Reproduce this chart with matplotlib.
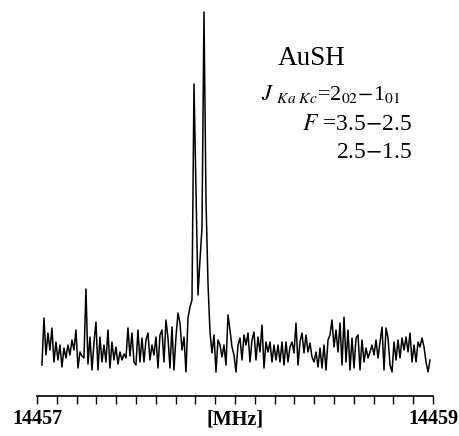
import matplotlib
matplotlib.use("Agg")
import matplotlib.pyplot as plt
import numpy as np

plt.rcParams["font.family"] = ["Liberation Serif", "DejaVu Serif"]
plt.rcParams["mathtext.fontset"] = "stix"

# spectrum, 195 samples between 14457.025 and 14458.985 MHz (arb. units)
intensity = [
    -1.5, 3.2, -0.5, 1.7, 0.0, 2.2, -1.2, 0.8, -1.0, 0.5,
    -1.7, 0.2, -0.8, 0.5, -0.5, 1.0, 0.0, 2.0, -1.8, -0.2,
    -0.6, -0.8, 6.1, -1.4, 1.3, -2.0, 0.7, 2.8, -2.0, 1.3,
    -1.2, 0.5, -1.2, 2.0, -1.8, 0.8, -1.0, 0.3, -1.4, -0.2,
    -1.0, -0.4, -0.8, 2.2, -0.6, 1.7, -1.2, -1.5, 2.0, -1.2,
    1.2, -1.2, 1.0, 1.7, -1.0, 0.5, -0.5, 1.3, -1.8, 1.5,
    2.0, -1.2, 3.0, 1.2, -1.8, 2.3, -2.0, 1.3, 3.7, 2.7,
    0.0, 1.3, -2.2, 3.2, 4.3, 5.0, 26.6, 16.0, 5.5, 9.0,
    12.2, 33.8, 15.0, 6.7, 1.8, -0.3, 1.5, -2.2, 1.0, 0.5,
    -0.7, 0.5, -1.5, 3.5, 2.0, 0.3, -0.5, -2.2, 0.5, 1.2,
    -1.0, 1.5, 0.5, 1.7, -1.2, 1.0, 1.8, -1.0, 1.3, -0.2,
    2.5, -1.8, 0.8, -0.2, 0.8, -1.2, 0.5, -1.0, 0.5, -1.2,
    0.8, -1.5, 0.8, -1.2, 0.3, 0.8, -0.3, 2.7, -1.5, 0.8,
    1.7, -0.3, 1.5, -0.2, 0.7, -0.7, -1.2, -0.2, -1.7, 0.2,
    -1.8, 0.5, -2.0, 1.0, 1.5, 3.0, 0.3, 2.0, -0.2, 2.7,
    -1.5, 3.3, -1.2, 2.0, -2.0, 1.2, -1.8, 1.2, 1.5, -2.0,
    1.0, -1.2, 0.2, -0.8, -0.2, 0.5, -0.5, 1.0, -0.8, 0.8,
    2.3, -2.0, 2.2, 1.2, -1.5, -2.2, 0.8, -1.0, 1.0, -0.8,
    1.2, 0.0, 1.3, -0.2, 1.7, -1.2, 0.5, -1.2, 0.8, 0.3,
    1.2, 0.3, -1.2, -2.2, -1.0,
]
freq = np.linspace(14457.025, 14458.985, len(intensity))

major_ticks = [14457, 14458, 14459]
major_labels = ["14457", "[MHz]", "14459"]
minor_ticks = np.arange(14457.1, 14459.0, 0.1)

W, H = 459, 436
fig = plt.figure(figsize=(W / 100, H / 100), dpi=100)
ax = fig.add_axes([37 / W, (H - 396) / H, 396 / W, 391 / H])

ax.plot(freq, intensity, color="black", lw=1.1)
ax.set_xlim(14457, 14459)
ax.set_ylim(-4.6, 34.5)

for s in ["left", "right", "top"]:
    ax.spines[s].set_visible(False)
ax.spines["bottom"].set_linewidth(1.2)
ax.set_yticks([])
ax.set_xticks(major_ticks, labels=major_labels)
ax.set_xticks(minor_ticks, minor=True)
ax.tick_params(axis="x", which="both", direction="out", length=5.5, width=1.0,
               pad=4, labelsize=14.5)
for lbl in ax.get_xticklabels():
    lbl.set_fontweight("bold")


def px(x, y):
    return x / W, 1 - y / H


fig.text(*px(278, 65), "AuSH", fontsize=19.5, va="baseline", ha="left")
fig.text(*px(261, 100), r"$J$ $_{Ka\ Kc}$=2$_{02}$$-$1$_{01}$",
         fontsize=16, va="baseline", ha="left")
fig.text(*px(412, 130), r"$F$ =3.5$-$2.5", fontsize=17, va="baseline", ha="right")
fig.text(*px(412, 158), r"2.5$-$1.5", fontsize=17, va="baseline", ha="right")

fig.savefig("out.png", dpi=100)
plt.close(fig)
